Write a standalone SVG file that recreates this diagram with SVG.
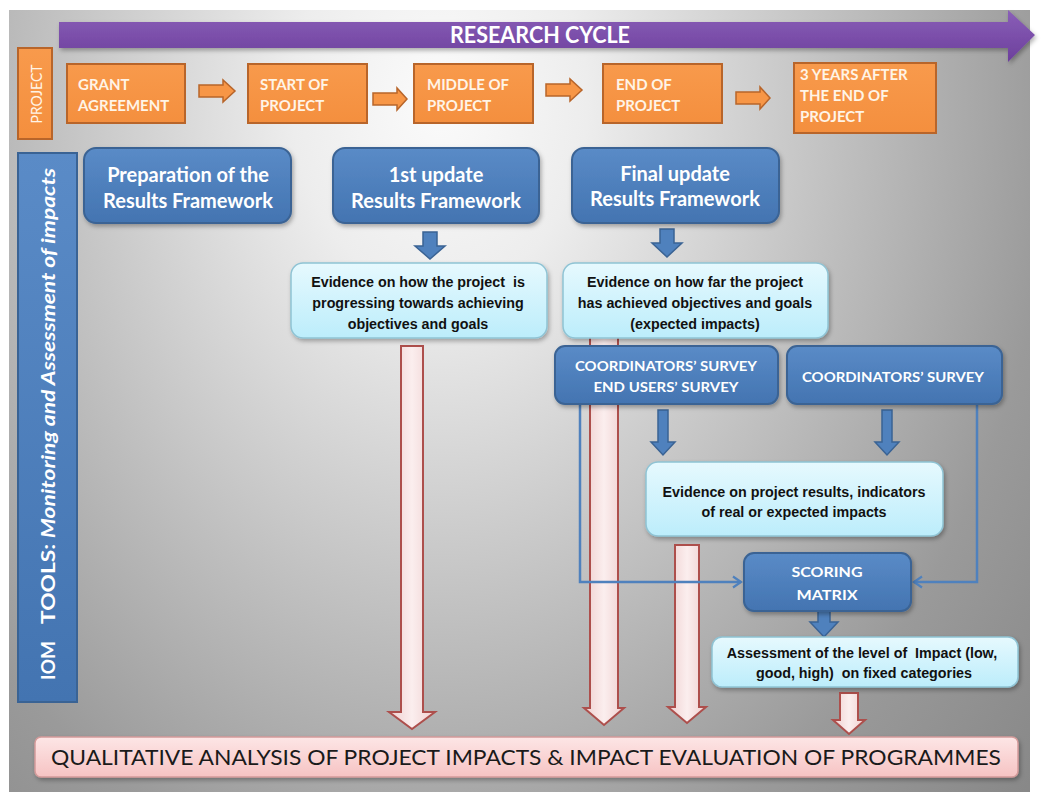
<svg xmlns="http://www.w3.org/2000/svg" width="1041" height="792" viewBox="0 0 1041 792">
<defs>
<radialGradient id="gBg" gradientUnits="userSpaceOnUse" cx="440" cy="100" r="820" gradientTransform="translate(440 100) scale(1 1.3) translate(-440 -100)">
<stop offset="0" stop-color="#fbfbfb"/>
<stop offset="0.18" stop-color="#ededed"/>
<stop offset="0.5" stop-color="#bebebe"/>
<stop offset="0.75" stop-color="#9a9a9a"/>
<stop offset="1" stop-color="#858585"/>
</radialGradient>
<linearGradient id="gPurple" x1="0" y1="0" x2="0" y2="1">
<stop offset="0" stop-color="#8a5fb8"/>
<stop offset="1" stop-color="#6c3f9c"/>
</linearGradient>
<linearGradient id="gBlue" x1="0" y1="0" x2="0" y2="1">
<stop offset="0" stop-color="#5a8bc7"/>
<stop offset="1" stop-color="#4374b1"/>
</linearGradient>
<linearGradient id="gCyan" x1="0" y1="0" x2="0" y2="1">
<stop offset="0" stop-color="#e6f9fe"/>
<stop offset="1" stop-color="#bcedfb"/>
</linearGradient>
<linearGradient id="gPink" x1="0" y1="0" x2="1" y2="0">
<stop offset="0" stop-color="#efcfcf"/>
<stop offset="0.5" stop-color="#fbeeee"/>
<stop offset="1" stop-color="#efcfcf"/>
</linearGradient>
<linearGradient id="gPinkBox" x1="0" y1="0" x2="0" y2="1">
<stop offset="0" stop-color="#fde6e6"/>
<stop offset="1" stop-color="#f6c3c3"/>
</linearGradient>
<linearGradient id="gOrange" x1="0" y1="0" x2="0" y2="1">
<stop offset="0" stop-color="#f89a4c"/>
<stop offset="1" stop-color="#f48f3e"/>
</linearGradient>
<filter id="sh" x="-10%" y="-10%" width="130%" height="140%">
<feDropShadow dx="1.5" dy="2.5" stdDeviation="2" flood-color="#000" flood-opacity="0.3"/>
</filter>
<marker id="chev" markerWidth="14" markerHeight="14" refX="11" refY="7" orient="auto" markerUnits="userSpaceOnUse">
<path d="M3,1.5 L11,7 L3,12.5" fill="none" stroke="#4f81bd" stroke-width="2.2"/>
</marker>
<style>
.ob{fill:url(#gOrange);stroke:#b8652a;stroke-width:2}
.ot{font-family:Lato,"Liberation Sans",sans-serif;font-weight:bold;font-size:15px;fill:#fff4e6}
.bb{fill:url(#gBlue);stroke:#3a6394;stroke-width:2}
.bt{font-family:Lato,"Liberation Sans",sans-serif;font-weight:bold;font-size:20px;fill:#ffffff;text-anchor:middle}
.ct{font-family:Lato,"Liberation Sans",sans-serif;font-weight:bold;font-size:14px;fill:#ffffff;text-anchor:middle}
.eb{fill:url(#gCyan);stroke:#8fc3d4;stroke-width:1.5}
.et{font-family:"Liberation Sans",Arial,sans-serif;font-weight:bold;font-size:14.3px;fill:#111111;text-anchor:middle;white-space:pre}
.pa{fill:url(#gPink);stroke:#ad4f4c;stroke-width:2}
.ba{fill:#4f81bd;stroke:#3a6394;stroke-width:1.5}
.cl{fill:none;stroke:#4f81bd;stroke-width:2.5}
.oa{fill:#f79646;stroke:#b8652a;stroke-width:1.5}
.vt{font-family:Lato,"Liberation Sans",sans-serif;font-weight:bold;font-size:19px;fill:#ffffff}
</style>
</defs>

<rect x="0" y="0" width="1041" height="792" fill="#ffffff"/>
<rect x="9" y="10" width="1021" height="782" fill="url(#gBg)"/>

<g id="research-cycle">
<polygon points="59,22 1008,22 1008,10 1035,35 1008,62 1008,48 59,48" fill="url(#gPurple)" filter="url(#sh)"/>
<text x="540" y="43" font-family="Lato,'Liberation Sans',sans-serif" font-weight="bold" font-size="22" fill="#ffffff" text-anchor="middle" textLength="180" lengthAdjust="spacingAndGlyphs">RESEARCH CYCLE</text>
</g>

<g id="project-label">
<rect x="18" y="48" width="34" height="91" class="ob"/>
<text transform="translate(42 94) rotate(-90)" font-family="Lato,'Liberation Sans',sans-serif" font-size="15" fill="#fff4e6" text-anchor="middle" textLength="59" lengthAdjust="spacingAndGlyphs">PROJECT</text>
</g>

<g id="tools-label">
<rect x="18" y="153" width="59" height="549" fill="url(#gBlue)" stroke="#3a6394" stroke-width="2"/>
<text class="vt" transform="translate(55 680) rotate(-90)">IOM</text>
<text class="vt" transform="translate(55 624) rotate(-90)" textLength="456" lengthAdjust="spacingAndGlyphs">TOOLS: <tspan font-style="italic">Monitoring and Assessment of impacts</tspan></text>
</g>

<g id="grant-agreement">
<rect x="67" y="64" width="118" height="59" class="ob"/>
<text class="ot" x="78" y="90">GRANT</text>
<text class="ot" x="78" y="111">AGREEMENT</text>
</g>
<g id="start-of-project">
<rect x="248" y="64" width="119" height="59" class="ob"/>
<text class="ot" x="260" y="90">START OF</text>
<text class="ot" x="260" y="111">PROJECT</text>
</g>
<g id="middle-of-project">
<rect x="414" y="64" width="119" height="59" class="ob"/>
<text class="ot" x="427" y="90">MIDDLE OF</text>
<text class="ot" x="427" y="111">PROJECT</text>
</g>
<g id="end-of-project">
<rect x="603" y="64" width="119" height="59" class="ob"/>
<text class="ot" x="616" y="90">END OF</text>
<text class="ot" x="616" y="111">PROJECT</text>
</g>
<g id="three-years-after">
<rect x="794" y="63" width="142" height="70" class="ob"/>
<text class="ot" x="800" y="80">3 YEARS AFTER</text>
<text class="ot" x="800" y="101">THE END OF</text>
<text class="ot" x="800" y="122">PROJECT</text>
</g>

<g id="connectors">
<polygon class="oa" points="199,85 223,85 223,80 235,91 223,102 223,97 199,97"/>
<polygon class="oa" points="373,93 397,93 397,88 407,99 397,110 397,105 373,105"/>
<polygon class="oa" points="546,84 570,84 570,79 582,90 570,101 570,96 546,96"/>
<polygon class="oa" points="736,92 760,92 760,87 770,98 760,109 760,104 736,104"/>

<polygon class="pa" points="401,346 423,346 423,712 435,712 412,729 389,712 401,712"/>
<polygon class="pa" points="590,336 618,336 618,708 624,708 604,725 584,708 590,708"/>
<polygon class="pa" points="675,545 699,545 699,707 706,707 687,723 668,707 675,707"/>
<polygon class="pa" points="840,693 858,693 858,720 865,720 849,734 833,720 840,720"/>

<polygon class="ba" points="423,232 437,232 437,246 445,246 430,259 415,246 423,246"/>
<polygon class="ba" points="660,229 674,229 674,243 682,243 667,257 652,243 660,243"/>
<polygon class="ba" points="658,410 668,410 668,442 675,442 663,455 651,442 658,442"/>
<polygon class="ba" points="882,410 892,410 892,442 899,442 887,455 875,442 882,442"/>
<polygon class="ba" points="818,611 830,611 830,622 838,622 824,637 810,622 818,622"/>

<path class="cl" d="M580,404 V582 H741" marker-end="url(#chev)"/>
<path class="cl" d="M977,404 V582 H914" marker-end="url(#chev)"/>
</g>

<g id="preparation">
<rect x="84" y="148" width="207" height="75" rx="12" class="bb" filter="url(#sh)"/>
<text class="bt" x="188" y="182">Preparation of the</text>
<text class="bt" x="188" y="208">Results Framework</text>
</g>
<g id="first-update">
<rect x="333" y="148" width="206" height="75" rx="12" class="bb" filter="url(#sh)"/>
<text class="bt" x="436" y="182">1st update</text>
<text class="bt" x="436" y="208">Results Framework</text>
</g>
<g id="final-update">
<rect x="572" y="148" width="207" height="75" rx="12" class="bb" filter="url(#sh)"/>
<text class="bt" x="675" y="181" font-size="19">Final update</text>
<text class="bt" x="675" y="206" font-size="19">Results Framework</text>
</g>

<g id="evidence-progress">
<rect x="291" y="263" width="256" height="75" rx="12" class="eb" filter="url(#sh)"/>
<text class="et" x="418" y="287">Evidence on how the project  is</text>
<text class="et" x="418" y="308">progressing towards achieving</text>
<text class="et" x="418" y="329">objectives and goals</text>
</g>
<g id="evidence-achieved">
<rect x="563" y="263" width="265" height="75" rx="12" class="eb" filter="url(#sh)"/>
<text class="et" x="695" y="287">Evidence on how far the project</text>
<text class="et" x="695" y="308">has achieved objectives and goals</text>
<text class="et" x="695" y="329">(expected impacts)</text>
</g>

<g id="coordinators-end-users-survey">
<rect x="555" y="346" width="223" height="58" rx="10" class="bb" filter="url(#sh)"/>
<text class="ct" x="666" y="371" textLength="182" lengthAdjust="spacingAndGlyphs">COORDINATORS’ SURVEY</text>
<text class="ct" x="666" y="392" textLength="145" lengthAdjust="spacingAndGlyphs">END USERS’ SURVEY</text>
</g>
<g id="coordinators-survey">
<rect x="787" y="346" width="215" height="58" rx="10" class="bb" filter="url(#sh)"/>
<text class="ct" x="893" y="382" textLength="182" lengthAdjust="spacingAndGlyphs">COORDINATORS’ SURVEY</text>
</g>

<g id="evidence-results">
<rect x="646" y="462" width="297" height="74" rx="12" class="eb" filter="url(#sh)"/>
<text class="et" x="794" y="497">Evidence on project results, indicators</text>
<text class="et" x="794" y="517">of real or expected impacts</text>
</g>

<g id="scoring-matrix">
<rect x="744" y="553" width="167" height="58" rx="10" class="bb" filter="url(#sh)"/>
<text class="ct" x="827" y="577" font-size="15" textLength="71" lengthAdjust="spacingAndGlyphs">SCORING</text>
<text class="ct" x="827" y="600" font-size="15" textLength="61" lengthAdjust="spacingAndGlyphs">MATRIX</text>
</g>

<g id="assessment">
<rect x="712" y="637" width="306" height="50" rx="10" class="eb" filter="url(#sh)"/>
<text class="et" x="862" y="658">Assessment of the level of  Impact (low,</text>
<text class="et" x="864" y="678">good, high)  on fixed categories</text>
</g>

<g id="qualitative-analysis">
<rect x="35" y="737" width="983" height="40" rx="6" fill="url(#gPinkBox)" stroke="#d49b9a" stroke-width="1.5" filter="url(#sh)"/>
<text x="526" y="765" font-family="Lato,'Liberation Sans',sans-serif" font-size="22" fill="#1a1a1a" text-anchor="middle" textLength="950" lengthAdjust="spacingAndGlyphs">QUALITATIVE ANALYSIS OF PROJECT IMPACTS &amp; IMPACT EVALUATION OF PROGRAMMES</text>
</g>
</svg>
